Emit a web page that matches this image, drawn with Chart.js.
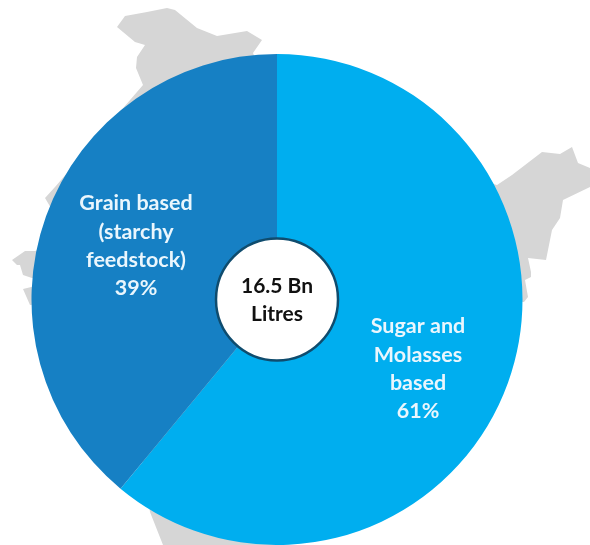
<!DOCTYPE html>
<html>
<head>
<meta charset="utf-8">
<title>Ethanol capacity by feedstock</title>
<style>
  html, body { margin: 0; padding: 0; background: #fff; overflow: hidden; }
  #wrap { width: 590px; height: 545px; position: relative; }
</style>
<script src="https://cdn.jsdelivr.net/npm/chart.js@4/dist/chart.umd.min.js"></script>
</head>
<body>
<div id="wrap"><canvas id="chart" width="590" height="545"></canvas></div>
<script>
const categories = ['Sugar and Molasses based', 'Grain based (starchy feedstock)'];
const shares = [61, 39];
const sliceColors = ['#00AEEF', '#1680C4'];
const sliceLabelLines = [['Sugar and', 'Molasses', 'based'], ['Grain based', '(starchy', 'feedstock)']];
const totalLines = ['16.5 Bn', 'Litres'];

const FONT = 'Lato, "Open Sans", sans-serif';

// grey country outline sitting behind the pie
const backdrop = new Path2D(
  'M167 8 L175 10 L197 28 L217 36 L247 31 L262 40 L253 53 L280 120 L497 185 ' +
  'L512 175 L542 152 L560 154 L572 147 L578 163 L590 168 L590 187 L563 200 L560 218 L552 230 ' +
  'L546 260 L528 258 L531 272 L531 277 L525 280 L528 297 L524 302 L300 300 L277 545 L163 545 ' +
  'L150 512 L120 300 L30 305 L23 289 L60 280 L32 278 L23 275 L20 265 L17 265 L12 260 L25 251 ' +
  'L35 251 L70 240 L45 198 L55 187 L143 85 L136 68 L137 57 L145 45 L135 42 L117 27 L125 16 L147 12 Z'
);

const backdropPlugin = {
  id: 'backdrop',
  beforeDraw(chart) {
    const ctx = chart.ctx;
    ctx.save();
    ctx.fillStyle = '#D6D6D6';
    ctx.fill(backdrop);
    ctx.restore();
  }
};

// slice captions and the white hub with the total
const labelsPlugin = {
  id: 'labels',
  afterDatasetsDraw(chart) {
    const ctx = chart.ctx;
    const arc = chart.getDatasetMeta(0).data[0];
    const cx = arc.x;
    const cy = arc.y;

    ctx.save();
    ctx.beginPath();
    ctx.arc(cx, cy, arc.innerRadius, 0, Math.PI * 2);
    ctx.fillStyle = '#fff';
    ctx.fill();
    ctx.lineWidth = 2.5;
    ctx.strokeStyle = '#0F4C6E';
    ctx.stroke();

    ctx.textAlign = 'center';
    ctx.textBaseline = 'middle';
    ctx.font = 'bold 21px ' + FONT;
    ctx.fillStyle = '#111';
    totalLines.forEach((line, i) => ctx.fillText(line, cx, cy - 13 + i * 28));

    ctx.font = 'bold 21.5px ' + FONT;
    ctx.fillStyle = '#EAF6FD';
    const anchors = [{ x: cx + 141, y: cy + 27 }, { x: cx - 141, y: cy - 96 }];
    shares.forEach((share, s) => {
      const lines = sliceLabelLines[s].concat(share + '%');
      lines.forEach((line, i) => ctx.fillText(line, anchors[s].x, anchors[s].y + i * 28.3));
    });
    ctx.restore();
  }
};

new Chart(document.getElementById('chart'), {
  type: 'doughnut',
  data: {
    labels: categories,
    datasets: [{
      data: shares,
      backgroundColor: sliceColors,
      borderWidth: 0
    }]
  },
  options: {
    responsive: false,
    animation: false,
    cutout: 61,
    layout: { padding: { left: 31, right: 67, top: 54, bottom: 0 } },
    plugins: {
      legend: { display: false },
      tooltip: { enabled: false }
    }
  },
  plugins: [backdropPlugin, labelsPlugin]
});
</script>
</body>
</html>
